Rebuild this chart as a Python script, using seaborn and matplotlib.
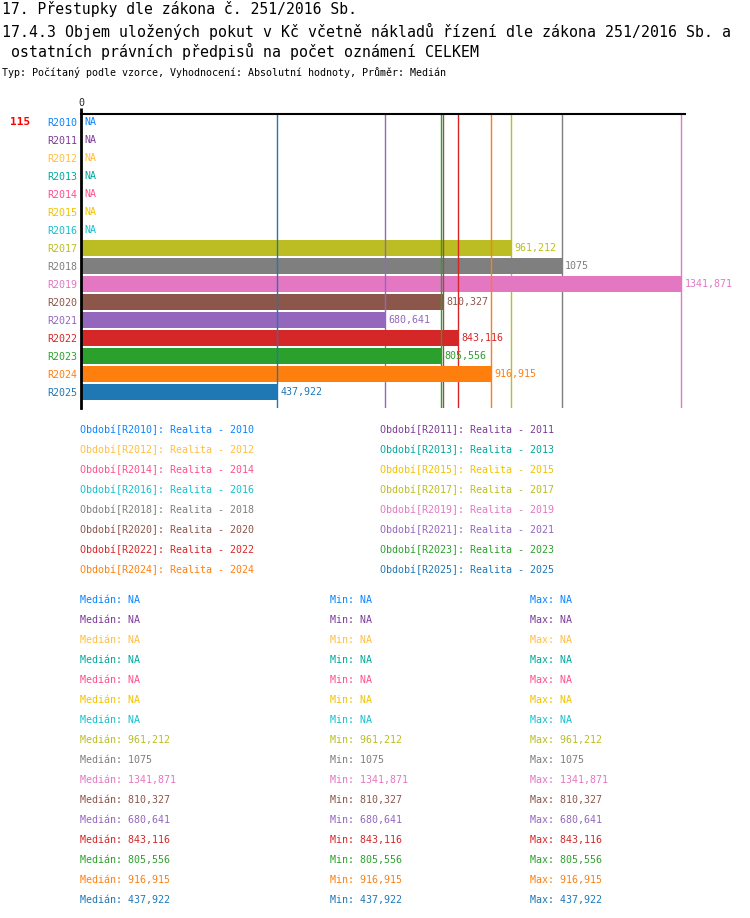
import numpy as np
import pandas as pd
import matplotlib
matplotlib.use("Agg")
import matplotlib.pyplot as plt
import seaborn as sns

categories = ["R2010", "R2011", "R2012", "R2013", "R2014", "R2015", "R2016", "R2017",
              "R2018", "R2019", "R2020", "R2021", "R2022", "R2023", "R2024", "R2025"]
values = [np.nan, np.nan, np.nan, np.nan, np.nan, np.nan, np.nan, 961.212,
          1075, 1341.871, 810.327, 680.641, 843.116, 805.556, 916.915, 437.922]
value_labels = ["NA", "NA", "NA", "NA", "NA", "NA", "NA", "961,212",
                "1075", "1341,871", "810,327", "680,641", "843,116", "805,556", "916,915", "437,922"]
colors = ["#0a84ff", "#7d3c98", "#ffbf40", "#00a89d", "#ff4f8b", "#f2c200", "#17becf", "#bcbd22",
          "#7f7f7f", "#e377c2", "#8c564b", "#9467bd", "#d62728", "#2ca02c", "#ff7f0e", "#1f77b4"]
legend_labels = [f"Období[{c}]: Realita - {c[1:]}" for c in categories]
count_label = "115"

title1 = "17. Přestupky dle zákona č. 251/2016 Sb."
title2 = "17.4.3 Objem uložených pokut v Kč včetně nákladů řízení dle zákona 251/2016 Sb. a"
title3 = " ostatních právních předpisů na počet oznámení CELKEM"
subtitle = "Typ: Počítaný podle vzorce, Vyhodnocení: Absolutní hodnoty, Průměr: Medián"

sns.set_theme(style="white")
plt.rcParams['font.family'] = ['DejaVu Sans Mono', 'DejaVu Sans']

W, H = 750, 918
fig = plt.figure(figsize=(W / 100, H / 100), dpi=100)

def fx(px):
    return px / W

def fy(py):
    return 1 - py / H

FS = 7.2
ax_left, ax_right, ax_top, ax_bot = 81, 685, 114, 408
ax = fig.add_axes([fx(ax_left), fy(ax_bot), fx(ax_right - ax_left), (ax_bot - ax_top) / H])

df = pd.DataFrame({"cat": categories, "val": values})
palette = dict(zip(categories, colors))
sns.barplot(data=df, x="val", y="cat", hue="cat", palette=palette, order=categories,
            hue_order=categories, orient="h", width=16 / 18, saturation=1, legend=False,
            linewidth=0, edgecolor="none", ax=ax)

# stacking: bar i, then line i, then bar i+1 ...
for p in ax.patches:
    k = int(round(p.get_y() + p.get_height() / 2))
    p.set_zorder(2 + 2 * k)

xmax = 1351
ax.set_xlim(0, xmax)
ax.set_ylim(15 + 16 / 18, -8 / 18)

# vertical median lines
for k, (v, c) in enumerate(zip(values, colors)):
    if not np.isnan(v):
        ax.axvline(v, color=c, lw=1, zorder=3 + 2 * k)

# value labels
for i, (v, lab, c) in enumerate(zip(values, value_labels, colors)):
    xv = 0 if np.isnan(v) else v
    ax.annotate(lab, (xv, i), xytext=(2.5, 0), textcoords="offset points",
                ha="left", va="center", color=c, fontsize=FS, zorder=100)

# axes styling
for s in ["right", "bottom"]:
    ax.spines[s].set_visible(False)
ax.spines["top"].set_color("black")
ax.spines["top"].set_linewidth(1.5)
ax.spines["top"].set_zorder(101)
ax.spines["left"].set_color("black")
ax.spines["left"].set_linewidth(2)
ax.spines["left"].set_zorder(101)
ax.plot([0, 0], [1.0, 1.02], transform=ax.transAxes, color="black", lw=2, clip_on=False,
        solid_capstyle="butt", zorder=101)
ax.xaxis.tick_top()
ax.set_xticks([0])
ax.set_xticklabels(["0"], fontsize=FS)
ax.tick_params(axis="x", length=0, pad=4.5)
ax.set_yticks(range(len(categories)))
ax.set_yticklabels(categories, fontsize=FS)
ax.tick_params(axis="y", length=0, pad=3)
for t, c in zip(ax.get_yticklabels(), colors):
    t.set_color(c)
ax.set_xlabel("")
ax.set_ylabel("")

# count label
fig.text(fx(10), fy(122), count_label, color="red", fontsize=8, fontweight="bold", va="center", ha="left")

# titles
fig.text(fx(2), fy(9), title1, fontsize=10.6, va="center", ha="left", color="black")
fig.text(fx(2), fy(31), title2, fontsize=10.75, va="center", ha="left", color="black")
fig.text(fx(2), fy(51), title3, fontsize=10.75, va="center", ha="left", color="black")
fig.text(fx(2), fy(73), subtitle, fontsize=FS, va="center", ha="left", color="black")

# legend block
for i, (lab, c) in enumerate(zip(legend_labels, colors)):
    col = i % 2
    row = i // 2
    x = 80 if col == 0 else 380
    fig.text(fx(x), fy(430 + 20 * row), lab, fontsize=FS, color=c, va="center", ha="left")

# statistics block
for i, (lab, c) in enumerate(zip(value_labels, colors)):
    y = fy(600 + 20 * i)
    fig.text(fx(80), y, f"Medián: {lab}", fontsize=FS, color=c, va="center", ha="left")
    fig.text(fx(330), y, f"Min: {lab}", fontsize=FS, color=c, va="center", ha="left")
    fig.text(fx(530), y, f"Max: {lab}", fontsize=FS, color=c, va="center", ha="left")

fig.savefig("out.png", dpi=100)
